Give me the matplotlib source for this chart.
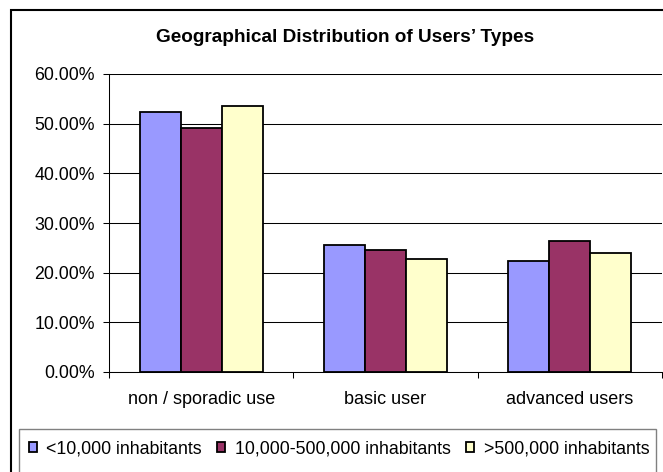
import matplotlib.pyplot as plt
import numpy as np
from matplotlib.patches import Rectangle
from matplotlib.ticker import FuncFormatter

# Data
categories = ["non / sporadic use", "basic user", "advanced users"]
series_names = ["<10,000 inhabitants", "10,000-500,000 inhabitants", ">500,000 inhabitants"]
small_towns = [0.524, 0.255, 0.224]
mid_towns = [0.492, 0.246, 0.263]
big_cities = [0.535, 0.227, 0.240]
y_ticks = [0.0, 0.1, 0.2, 0.3, 0.4, 0.5, 0.6]

colors = ["#9999FF", "#993366", "#FFFFCC"]

plt.rcParams["font.family"] = ["Liberation Sans", "DejaVu Sans"]

W, H = 663, 472
fig = plt.figure(figsize=(W / 100, H / 100), dpi=100)

# outer chart frame (cropped at right and bottom like the original)
fig.patches.append(Rectangle((11 / W, -0.1), 1.2, 1 - 10 / H + 0.1,
                             transform=fig.transFigure, fill=False,
                             edgecolor="black", linewidth=1.5))

ax = fig.add_axes([109 / W, 1 - 372 / H, (662 - 109) / W, (372 - 74) / H])

x = np.arange(len(categories))
bar_w = 1 / 4.5  # excel gap width 150%
for i, (vals, name) in enumerate(zip([small_towns, mid_towns, big_cities], series_names)):
    ax.bar(x + (i - 1) * bar_w, vals, width=bar_w, color=colors[i],
           edgecolor="black", linewidth=1.3, label=name, zorder=3)

ax.set_xlim(-0.5, len(categories) - 0.5)
ax.set_ylim(0, 0.6)
ax.set_yticks(y_ticks)
ax.yaxis.set_major_formatter(FuncFormatter(lambda v, p: f"{v * 100:.2f}%"))
ax.grid(axis="y", color="black", linewidth=0.75, zorder=0)

ax.set_xticks(x)
ax.set_xticklabels(categories)
ax.set_xticks(np.arange(-0.5, len(categories)), minor=True)
ax.tick_params(axis="x", which="major", length=0, pad=13.5, labelsize=13)
ax.tick_params(axis="x", which="minor", length=4.3, width=0.75, direction="out")
ax.tick_params(axis="y", length=4, width=0.75, labelsize=12.8, pad=6)

for s in ["top", "right"]:
    ax.spines[s].set_visible(False)
ax.spines["left"].set_linewidth(0.75)
ax.spines["bottom"].set_linewidth(0.75)

fig.text(345 / W, 1 - 37 / H, "Geographical Distribution of Users\u2019 Types",
         ha="center", va="center", fontsize=13.7, fontweight="bold")

# legend box
fig.patches.append(Rectangle((19 / W, -0.1), (656 - 19) / W, 1 - 429 / H + 0.1,
                             transform=fig.transFigure, fill=False,
                             edgecolor="#808080", linewidth=1.0))
fig.legend(loc="center", bbox_to_anchor=(339 / W, 1 - 449 / H), ncol=3,
           frameon=False, fontsize=12.8, handlelength=0.45, handleheight=0.45,
           handletextpad=0.55, columnspacing=0.85)

fig.savefig("out.png", dpi=100)
